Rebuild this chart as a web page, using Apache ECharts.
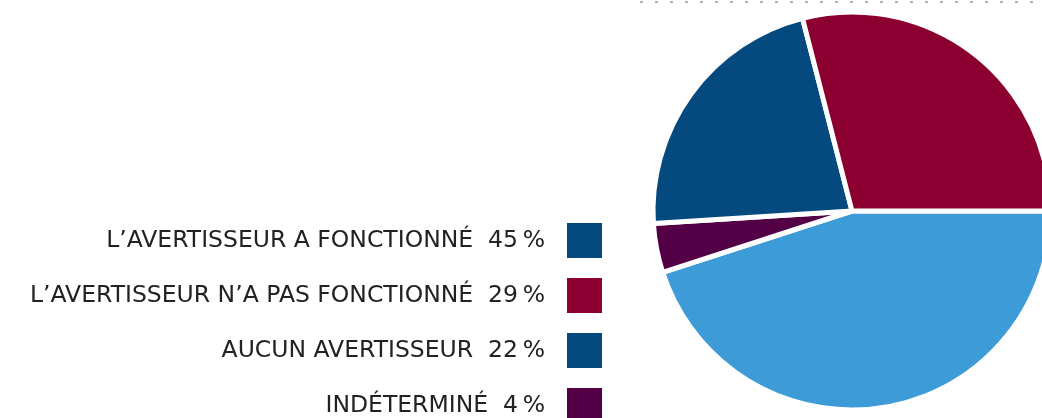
<!DOCTYPE html>
<html>
<head>
<meta charset="utf-8">
<script src="https://cdn.jsdelivr.net/npm/echarts@6/dist/echarts.min.js"></script>
<style>
	html, body { margin: 0; padding: 0; background: #fff; }
	#chart { width: 1042px; height: 418px; }
</style>
</head>
<body>
<div id="chart"></div>
<script>
	// categories in legend order
	var categories = ['L’AVERTISSEUR A FONCTIONNÉ', 'L’AVERTISSEUR N’A PAS FONCTIONNÉ', 'AUCUN AVERTISSEUR', 'INDÉTERMINÉ'];
	var values = [45, 29, 22, 4];
	var sliceColors = ['#3d9bd7', '#8b0030', '#044a7f', '#530046'];
	var legendColors = ['#044a7f', '#8b0030', '#044a7f', '#530046'];
	// pie drawn clockwise from 3 o'clock: 45, 4, 22, 29
	var pieOrder = [0, 3, 2, 1];

	var myChart = echarts.init(document.getElementById('chart'));

	var pieData = pieOrder.map(function (i) {
		return { name: categories[i], value: values[i], itemStyle: { color: sliceColors[i] } };
	});
	var legendData = categories.map(function (c, i) {
		return { name: c, itemStyle: { color: legendColors[i] } };
	});

	myChart.setOption({
		animation: false,
		legend: {
			orient: 'vertical',
			right: 438,
			top: 221,
			height: 230,
			padding: 0,
			align: 'right',
			icon: 'rect',
			itemWidth: 37,
			itemHeight: 37,
			itemGap: 16,
			selectedMode: false,
			data: legendData,
			formatter: function (name) {
				return name + '  ' + values[categories.indexOf(name)] + '\u2009%';
			},
			textStyle: {
				fontFamily: 'DejaVu Sans',
				fontSize: 23.5,
				color: '#222222',
				padding: [0, 16, 0, 0]
			}
		},
		graphic: [{
			type: 'line',
			shape: { x1: 640, y1: 2, x2: 1042, y2: 2 },
			style: { stroke: '#b0b0b0', lineWidth: 2, lineDash: [3, 12] }
		}],
		series: [{
			type: 'pie',
			center: [852, 211],
			radius: [0, 199],
			startAngle: 0,
			clockwise: true,
			label: { show: false },
			labelLine: { show: false },
			itemStyle: { borderColor: '#ffffff', borderWidth: 5 },
			emphasis: { disabled: true },
			data: pieData
		}]
	});
</script>
</body>
</html>
